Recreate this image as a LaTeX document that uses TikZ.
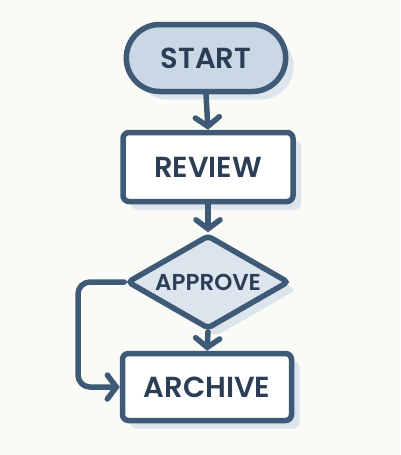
\documentclass[tikz,border=0pt]{standalone}
\usepackage{fontspec}
\setmainfont{Poppins}[BoldFont={Poppins SemiBold}]
\usetikzlibrary{arrows.meta,shapes.geometric,shapes.misc,shadows}
\definecolor{strokec}{HTML}{3E5A76}
\definecolor{textc}{HTML}{2C3E55}
\definecolor{startfill}{HTML}{CAD8E6}
\definecolor{diafill}{HTML}{DCE5EE}
\definecolor{shadowc}{HTML}{DCE4EC}
\definecolor{bgc}{HTML}{FAFAF7}
\begin{document}
\begin{tikzpicture}[x=1pt,y=-1pt,
  box/.style={draw=strokec, line width=5.5pt, text=textc, font=\bfseries,
    drop shadow={shadow xshift=8pt, shadow yshift=-8pt, fill=shadowc, opacity=1}},
  arr/.style={draw=strokec, line width=5.5pt, line cap=round,
    -{Straight Barb[length=9pt,width=24pt,line cap=round]}}
]
\fill[bgc] (0,0) rectangle (400,455);
\useasboundingbox (0,0) rectangle (400,455);
\node[box, rounded rectangle, fill=startfill, minimum width=166pt, minimum height=67pt,
  font=\bfseries\fontsize{29}{31}\selectfont] (start) at (206,58) {START};
\node[box, rectangle, rounded corners=6pt, fill=white, minimum width=170pt, minimum height=69pt,
  font=\bfseries\fontsize{29}{31}\selectfont] (review) at (208,167) {REVIEW};
\node[box, diamond, aspect=1.7, rounded corners=4pt, fill=diafill, inner sep=0pt, minimum width=162pt, minimum height=94pt,
  font=\bfseries\fontsize{23}{25}\selectfont] (approve) at (208,282) {APPROVE};
\node[box, rectangle, rounded corners=6pt, fill=white, minimum width=169pt, minimum height=67pt,
  font=\bfseries\fontsize{29}{31}\selectfont] (archive) at (207,387) {ARCHIVE};
\draw[arr] (start.south) -- (review.north);
\draw[arr] (review.south) -- (approve.north);
\draw[arr] (approve.south) -- (archive.north);
\draw[arr, rounded corners=12pt] (approve.west) -- (78,282) |- (archive.west);
\end{tikzpicture}
\end{document}
